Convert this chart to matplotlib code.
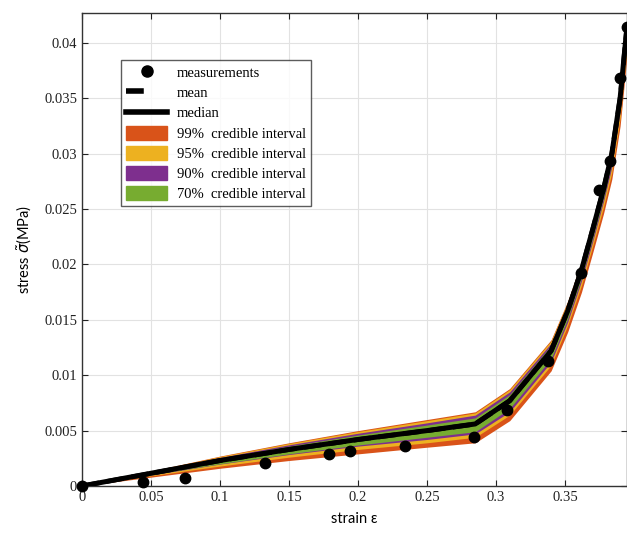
import matplotlib
matplotlib.use("Agg")
import matplotlib.pyplot as plt
from matplotlib.patches import Patch
from matplotlib.lines import Line2D

# ---- data ----
meas_strain = [0.0, 0.0442, 0.0746, 0.1326, 0.179, 0.194, 0.234, 0.284, 0.308, 0.338, 0.362, 0.375, 0.383, 0.390, 0.395]
meas_stress = [0.0, 0.00036, 0.00072, 0.0021, 0.0029, 0.0032, 0.0036, 0.0044, 0.0069, 0.0113, 0.0192, 0.0267, 0.0293, 0.0368, 0.0414]

strain = [0, 0.05, 0.1, 0.15, 0.2, 0.25, 0.285, 0.31, 0.34, 0.352, 0.362, 0.370, 0.378, 0.384, 0.390, 0.395]
median = [0, 0.00115, 0.0023, 0.0033, 0.0042, 0.0050, 0.0056, 0.0077, 0.0122, 0.0158, 0.0195, 0.0231, 0.0268, 0.0300, 0.0350, 0.0415]
mean = [0, 0.00114, 0.00229, 0.00329, 0.00419, 0.00499, 0.00559, 0.00769, 0.0122, 0.0158, 0.0195, 0.0231, 0.0268, 0.0300, 0.0350, 0.0415]

ci99_hi = [0, 0.00135, 0.0027, 0.0039, 0.0050, 0.0060, 0.0067, 0.0088, 0.0132, 0.0167, 0.0203, 0.0239, 0.0276, 0.0308, 0.0358, 0.0423]
ci99_lo = [0, 0.00080, 0.0016, 0.0023, 0.0029, 0.0035, 0.0039, 0.0059, 0.0104, 0.0139, 0.0175, 0.0210, 0.0246, 0.0277, 0.0325, 0.0388]
ci95_hi = [0, 0.00133, 0.00266, 0.00384, 0.00492, 0.0059, 0.0066, 0.0087, 0.0131, 0.0166, 0.0202, 0.0238, 0.0275, 0.0307, 0.0357, 0.0422]
ci95_lo = [0, 0.00092, 0.0018, 0.0026, 0.0033, 0.0039, 0.0044, 0.0064, 0.0109, 0.0145, 0.0181, 0.0216, 0.0252, 0.0283, 0.0332, 0.0396]
ci90_hi = [0, 0.00129, 0.00258, 0.00372, 0.00476, 0.0057, 0.0064, 0.0085, 0.0129, 0.0164, 0.0200, 0.0236, 0.0273, 0.0305, 0.0355, 0.0420]
ci90_lo = [0, 0.00099, 0.00198, 0.00284, 0.00360, 0.0042, 0.0047, 0.0067, 0.0112, 0.0148, 0.0185, 0.0220, 0.0257, 0.0288, 0.0338, 0.0402]
ci70_hi = [0, 0.00125, 0.0025, 0.0036, 0.0046, 0.0055, 0.00615, 0.00825, 0.0127, 0.0162, 0.0199, 0.0235, 0.0272, 0.0304, 0.0354, 0.0419]
ci70_lo = [0, 0.00104, 0.0020, 0.0029, 0.0037, 0.0044, 0.0049, 0.0070, 0.0115, 0.0151, 0.0188, 0.0223, 0.0260, 0.0292, 0.0341, 0.0406]

xticks = [0, 0.05, 0.1, 0.15, 0.2, 0.25, 0.3, 0.35]
xticklabels = ["0", "0.05", "0.1", "0.15", "0.2", "0.25", "0.3", "0.35"]
yticks = [0, 0.005, 0.01, 0.015, 0.02, 0.025, 0.03, 0.035, 0.04]
yticklabels = ["0", "0.005", "0.01", "0.015", "0.02", "0.025", "0.03", "0.035", "0.04"]

legend_labels = ["measurements", "mean", "median", "99%  credible interval",
                 "95%  credible interval", "90%  credible interval", "70%  credible interval"]

# ---- styles ----
c99 = "#D95319"
c95 = "#EDB120"
c90 = "#7E2F8E"
c70 = "#77AC30"
serif = ["Liberation Serif", "DejaVu Serif"]
sans = ["Lato", "DejaVu Sans"]

fig = plt.figure(figsize=(6.27, 5.35), dpi=100)
ax = fig.add_axes([0.1308, 0.0916, 0.8692, 0.8841])

ax.fill_between(strain, ci99_lo, ci99_hi, color=c99, lw=0, zorder=2)
ax.fill_between(strain, ci95_lo, ci95_hi, color=c95, lw=0, zorder=3)
ax.fill_between(strain, ci90_lo, ci90_hi, color=c90, lw=0, zorder=4)
ax.fill_between(strain, ci70_lo, ci70_hi, color=c70, lw=0, zorder=5)
ax.plot(strain, mean, color="black", lw=3.4, ls="--", zorder=6)
ax.plot(strain, median, color="black", lw=3.6, zorder=7)
ax.plot(meas_strain, meas_stress, "o", color="black", ms=7.5, zorder=8, clip_on=False)

ax.set_xlim(0, 0.395)
ax.set_ylim(0, 0.0427)
ax.set_xticks(xticks)
ax.set_xticklabels(xticklabels, fontfamily=serif, fontsize=10.5)
ax.set_yticks(yticks)
ax.set_yticklabels(yticklabels, fontfamily=serif, fontsize=10.5)
ax.tick_params(direction="in", top=True, right=True, length=4, width=0.8, colors="#222222")
ax.grid(True, color="#e2e2e2", lw=0.8)
ax.set_axisbelow(True)
for s in ax.spines.values():
    s.set_color("#333333")
    s.set_linewidth(1.0)

ax.set_xlabel("strain ε", fontfamily=sans, fontsize=10.5, labelpad=6)
ax.set_ylabel("stress $\\tilde{\\sigma}$(MPa)", fontfamily=sans, fontsize=10.5, labelpad=8)

handles = [
    Line2D([], [], marker="o", ls="none", color="black", ms=8),
    Line2D([], [], color="black", lw=4, ls=(0, (3.2, 10))),
    Line2D([], [], color="black", lw=4),
    Patch(facecolor=c99, edgecolor=c99),
    Patch(facecolor=c95, edgecolor=c95),
    Patch(facecolor=c90, edgecolor=c90),
    Patch(facecolor=c70, edgecolor=c70),
]
leg = ax.legend(handles, legend_labels, loc="upper left", bbox_to_anchor=(0.0716, 0.9006),
                borderaxespad=0, prop={"family": serif, "size": 10.5}, frameon=True,
                fancybox=False, edgecolor="#333333", handlelength=2.8, handleheight=1.1,
                labelspacing=0.36, borderpad=0.35, handletextpad=0.7)
leg.get_frame().set_linewidth(1.0)
leg.set_zorder(10)

fig.savefig("out.png", dpi=100)
